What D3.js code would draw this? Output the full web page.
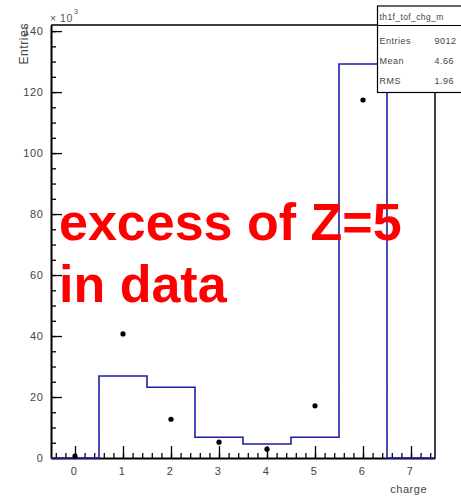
<!DOCTYPE html>
<html>
<head>
<meta charset="utf-8">
<script src="https://cdn.jsdelivr.net/npm/d3@7/dist/d3.min.js"></script>
<style>
  html, body { margin: 0; padding: 0; background: #fff; overflow: hidden; }
  svg { display: block; font-family: "Liberation Sans", Arial, sans-serif; }
</style>
</head>
<body>
<div id="chart"></div>
<script>
// charge bins (integer centres)
const charges = [0, 1, 2, 3, 4, 5, 6, 7];
// simulated histogram (blue steps), x10^3 entries
const mcCounts = [0, 26.9, 23.2, 6.8, 4.6, 6.8, 129.2, 0];
// data points (black dots), x10^3 entries
const dataCharges = [0, 1, 2, 3, 4, 5, 6];
const dataCounts = [0.6, 40.7, 12.7, 5.2, 2.9, 17.1, 117.4];
const yMajorTicks = [0, 20, 40, 60, 80, 100, 120, 140];
const statNames = ['Entries', 'Mean', 'RMS'];
const statValues = ['9012', '4.66', '1.96'];

const width = 461, height = 497;
const frame = { left: 51, right: 435, top: 25, bottom: 458 };

const svg = d3.select('#chart').append('svg')
  .attr('width', width)
  .attr('height', height);

const x = d3.scaleLinear().domain([-0.5, 7.5]).range([frame.left, frame.right]);
const y = d3.scaleLinear().domain([0, 142]).range([frame.bottom, frame.top]);

// frame top and right
svg.append('path')
  .attr('d', `M${frame.left},${frame.top}H${frame.right}V${frame.bottom}`)
  .attr('fill', 'none').attr('stroke', '#000').attr('stroke-width', 1.5);

// minor ticks
svg.append('g')
  .attr('transform', `translate(0,${frame.bottom})`)
  .call(d3.axisBottom(x).tickValues(d3.range(-0.4, 7.5, 0.2)).tickSizeInner(-5).tickSizeOuter(0).tickFormat(''))
  .call(g => g.select('.domain').remove())
  .call(g => g.selectAll('line').attr('stroke-width', 1.3));
svg.append('g')
  .attr('transform', `translate(${frame.left},0)`)
  .call(d3.axisLeft(y).tickValues(d3.range(5, 142, 5)).tickSizeInner(-5).tickSizeOuter(0).tickFormat(''))
  .call(g => g.select('.domain').remove())
  .call(g => g.selectAll('line').attr('stroke-width', 1.3));

// major axes
const xAxis = svg.append('g')
  .attr('transform', `translate(0,${frame.bottom})`)
  .call(d3.axisBottom(x).tickValues(charges).tickSizeInner(-12).tickSizeOuter(0).tickPadding(9).tickFormat(d3.format('d')));
const yAxis = svg.append('g')
  .attr('transform', `translate(${frame.left},0)`)
  .call(d3.axisLeft(y).tickValues(yMajorTicks).tickSizeInner(-11).tickSizeOuter(0).tickPadding(7.5).tickFormat(d3.format('d')));

[xAxis, yAxis].forEach(a => {
  a.select('.domain').attr('stroke-width', 2);
  a.selectAll('line').attr('stroke-width', 1.3);
  a.selectAll('text').attr('font-size', 11).attr('letter-spacing', 0.6).attr('fill', '#444');
});
xAxis.selectAll('text').attr('dx', -1.5);

// blue histogram outline
const stepPts = [];
charges.forEach((c, i) => {
  stepPts.push([c - 0.5, mcCounts[i]]);
  stepPts.push([c + 0.5, mcCounts[i]]);
});
svg.append('path')
  .datum(stepPts)
  .attr('d', d3.line().x(d => x(d[0])).y(d => y(d[1])))
  .attr('fill', 'none')
  .attr('stroke', '#1e1eaa')
  .attr('stroke-width', 1.6);

// data points
svg.append('g').selectAll('circle')
  .data(dataCharges.map((c, i) => [c, dataCounts[i]]))
  .join('circle')
  .attr('cx', d => x(d[0]))
  .attr('cy', d => y(d[1]))
  .attr('r', 2.6)
  .attr('fill', '#000');

// axis titles
svg.append('text')
  .attr('x', 427).attr('y', 493)
  .attr('text-anchor', 'end')
  .attr('font-size', 11).attr('letter-spacing', 0.5).attr('fill', '#444')
  .text('charge');
svg.append('text')
  .attr('transform', 'translate(27.5,23) rotate(-90)')
  .attr('text-anchor', 'end')
  .attr('font-size', 12).attr('letter-spacing', 0.6).attr('fill', '#444')
  .text('Entries');
const mult = svg.append('text')
  .attr('x', 50).attr('y', 21.5)
  .attr('font-size', 10.5).attr('letter-spacing', 0.5).attr('fill', '#555');
mult.append('tspan').text('\u00d7 10');
mult.append('tspan').attr('dy', -8).attr('dx', 1).attr('font-size', 7.5).text('3');

// stats box
const box = svg.append('g');
box.append('rect')
  .attr('x', 377.5).attr('y', 6)
  .attr('width', 100).attr('height', 86.5)
  .attr('fill', '#fff').attr('stroke', '#000').attr('stroke-width', 1.2);
box.append('line')
  .attr('x1', 377.5).attr('x2', 470).attr('y1', 25.5).attr('y2', 25.5)
  .attr('stroke', '#000').attr('stroke-width', 1.2);
box.append('text')
  .attr('x', 379.5).attr('y', 19.5)
  .attr('font-size', 8.5).attr('letter-spacing', 0.4).attr('fill', '#444')
  .text('th1f_tof_chg_m');
statNames.forEach((n, i) => {
  box.append('text')
    .attr('x', 379.5).attr('y', 44 + i * 20)
    .attr('font-size', 9).attr('letter-spacing', 0.5).attr('fill', '#444')
    .text(n);
  box.append('text')
    .attr('x', 434.5).attr('y', 44 + i * 20)
    .attr('font-size', 9).attr('letter-spacing', 0.5).attr('fill', '#444')
    .text(statValues[i]);
});

// annotation
const note = svg.append('text')
  .attr('font-size', 52).attr('font-weight', 'bold').attr('fill', '#ff0000');
note.append('tspan').attr('x', 59).attr('y', 240).text('excess of Z=5');
note.append('tspan').attr('x', 59).attr('y', 302).text('in data');
</script>
</body>
</html>
